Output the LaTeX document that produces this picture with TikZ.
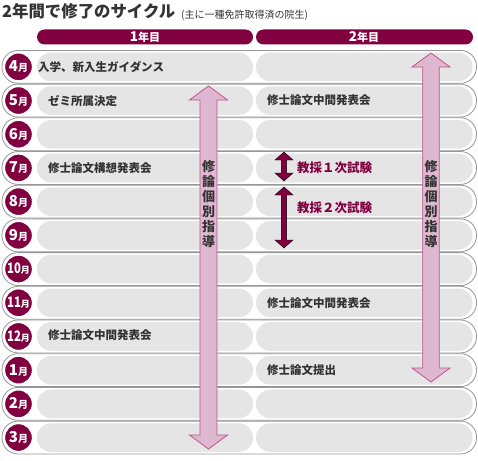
\documentclass[tikz,border=0pt]{standalone}
\usepackage{fontspec}
\setmainfont{Noto Sans CJK JP}
\definecolor{wine}{RGB}{128,0,64}
\definecolor{pillgray}{RGB}{229,229,229}
\definecolor{rimgray}{RGB}{150,150,150}
\definecolor{ink}{RGB}{51,51,51}
\definecolor{armfill}{RGB}{222,184,208}
\definecolor{armdraw}{RGB}{192,84,140}

% double-headed vertical arrow: x, top tip, bottom tip, shaft half width, head half width, head length, style
\newcommand\dblarrow[7]{%
	\draw[#7] (#1,#2) -- ({#1+#5},{#2+#6}) -- ({#1+#4},{#2+#6}) -- ({#1+#4},{#3-#6}) -- ({#1+#5},{#3-#6})
		-- (#1,#3) -- ({#1-#5},{#3-#6}) -- ({#1-#4},{#3-#6}) -- ({#1-#4},{#2+#6}) -- ({#1-#5},{#2+#6}) -- cycle;}

\tikzset{
	rowframe/.style={draw=rimgray, fill=white, line width=0.8pt, rounded corners=16pt},
	yearpill/.style={fill=pillgray, rounded corners=14pt},
	yearbar/.style={fill=wine, rounded corners=7.5pt},
	monthdot/.style={circle, fill=wine, draw=white, line width=1.3pt, minimum size=28pt, inner sep=0pt},
	monthtxt/.style={text=white, inner sep=0pt, font=\bfseries},
	event/.style={anchor=west, inner sep=0pt, text=ink, font=\fontsize{11.5}{11.5}\selectfont\bfseries},
	exam/.style={anchor=west, inner sep=0pt, text=wine, font=\fontsize{12.5}{12.5}\selectfont\bfseries},
	examarrow/.style={fill=wine},
	bigarrow/.style={fill=armfill, draw=armdraw, line width=0.8pt},
	guide/.style={align=center, inner sep=0pt, text=ink, font=\fontsize{13}{15}\selectfont\bfseries}
}

\begin{document}
\begin{tikzpicture}[x=1pt, y=-1pt]
	\useasboundingbox (0,0) rectangle (478,460);
	% title
	\node[anchor=west, inner sep=0pt, text=ink, font=\fontsize{16.4}{16.4}\selectfont\bfseries] (title) at (2,11.5) {2年間で修了のサイクル};
	\node[anchor=west, inner sep=0pt, text=ink, font=\fontsize{10}{10}\selectfont] (subtitle) at (181,15) {(主に一種免許取得済の院生)};
	% year headers
	\fill[yearbar] (37,29.5) rectangle (253,44.5);
	\fill[yearbar] (256,29.5) rectangle (473,44.5);
	\node[text=white, inner sep=0pt, font=\fontsize{11}{11}\selectfont\bfseries] (year1) at (145,37) {{\fontsize{13.5}{13.5}\selectfont 1}年目};
	\node[text=white, inner sep=0pt, font=\fontsize{11}{11}\selectfont\bfseries] (year2) at (364,37) {{\fontsize{13.5}{13.5}\selectfont 2}年目};
	% one row per month, 33.7 units apart
	\foreach \m [count=\i from 0] in {4,5,6,7,8,9,10,11,12,1,2,3} {
		\pgfmathsetmacro\rowtop{50+33.7*\i}
		\pgfmathsetmacro\rowmid{\rowtop+16.85}
		\draw[rowframe] (2,\rowtop+0.4) rectangle (476.5,\rowtop+33.3);
		\fill[yearpill] (37,\rowtop+2.6) rectangle (253,\rowtop+31.2);
		\fill[yearpill] (256,\rowtop+2.6) rectangle (472.5,\rowtop+31.2);
		\node[monthdot] (m\m) at (18.5,\rowmid) {};
		\ifnum\m>9
			\node[monthtxt] (mt\m) at (18.5,\rowmid) {\scalebox{0.78}[1]{\fontsize{14.5}{14.5}\selectfont\m}{\fontsize{9}{9}\selectfont 月}};
		\else
			\node[monthtxt] (mt\m) at (18.5,\rowmid) {{\fontsize{15}{15}\selectfont\m}{\fontsize{10}{10}\selectfont 月}};
		\fi
	}
	% first year events
	\node[event] (enter) at (38,66.85) {入学、新入生ガイダンス};
	\node[event] (seminar) at (48,100.55) {ゼミ所属決定};
	\node[event] (plan) at (48,167.95) {修士論文構想発表会};
	\node[event] (interimA) at (48,335.45) {修士論文中間発表会};
	% second year events
	\node[event] (interimB) at (267,100.55) {修士論文中間発表会};
	\node[event] (interimC) at (267,302.75) {修士論文中間発表会};
	\node[event] (submit) at (267,370.15) {修士論文提出};
	% teacher employment exams
	\dblarrow{284}{152}{181}{2.6}{9}{8}{examarrow}
	\dblarrow{284}{187}{248}{2.6}{9}{8}{examarrow}
	\node[exam] (exam1) at (297,168) {教採１次試験};
	\node[exam] (exam2) at (297,208) {教採２次試験};
	% individual thesis guidance
	\dblarrow{208.5}{86}{449}{8.5}{19}{14}{bigarrow}
	\dblarrow{431}{53}{382}{8.3}{19}{14}{bigarrow}
	\node[guide] (guide1) at (208.5,204.5) {修\\論\\個\\別\\指\\導};
	\node[guide] (guide2) at (431,204.5) {修\\論\\個\\別\\指\\導};
\end{tikzpicture}
\end{document}
